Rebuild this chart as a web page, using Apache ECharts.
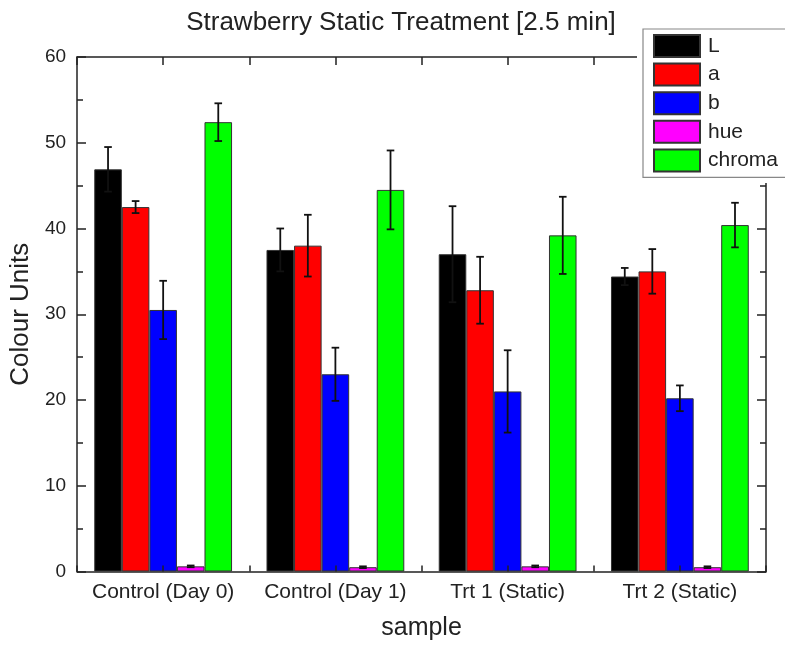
<!DOCTYPE html>
<html>
<head>
<meta charset="utf-8">
<script src="https://cdn.jsdelivr.net/npm/echarts@6/dist/echarts.min.js"></script>
<style>
  html, body { margin: 0; padding: 0; background: #fff; }
  #chart { width: 785px; height: 646px; }
</style>
</head>
<body>
<div id="chart"></div>
<script>
// sample groups
const categories = ['Control (Day 0)', 'Control (Day 1)', 'Trt 1 (Static)', 'Trt 2 (Static)'];
const seriesNames = ['L', 'a', 'b', 'hue', 'chroma'];
const colors = ['#000000', '#ff0000', '#0000ff', '#ff00ff', '#00ff00'];

// means and error (SD) per measure
const L = [46.9, 37.5, 37.0, 34.4];
const L_err = [2.6, 2.5, 5.6, 1.0];
const a = [42.5, 38.0, 32.8, 35.0];
const a_err = [0.7, 3.6, 3.9, 2.6];
const b = [30.5, 23.0, 21.0, 20.2];
const b_err = [3.4, 3.1, 4.8, 1.5];
const hue = [0.6, 0.5, 0.6, 0.5];
const hue_err = [0.1, 0.1, 0.1, 0.1];
const chroma = [52.4, 44.5, 39.2, 40.4];
const chroma_err = [2.2, 4.6, 4.5, 2.6];

const yTicks = [0, 10, 20, 30, 40, 50, 60];

const means = [L, a, b, hue, chroma];
const errs = [L_err, a_err, b_err, hue_err, chroma_err];

const barFrac = 0.16; // bar width as part of category band
const fontFam = 'Liberation Sans, Arial, sans-serif';

var myChart = echarts.init(document.getElementById('chart'));

const barSeries = seriesNames.map((name, k) => ({
    name: name,
    type: 'bar',
    xAxisIndex: 0,
    yAxisIndex: 0,
    data: means[k],
    barWidth: (barFrac * 100) + '%',
    barGap: '0%',
    itemStyle: { color: colors[k], borderColor: '#333', borderWidth: 1 },
    z: 2,
}));

const errSeries = seriesNames.map((name, k) => ({
    name: name + ' err',
    type: 'custom',
    xAxisIndex: 0,
    yAxisIndex: 0,
    z: 4,
    data: means[k].map((v, i) => [i, v, errs[k][i]]),
    renderItem: function (params, api) {
        const idx = api.value(0);
        const v = api.value(1);
        const e = api.value(2);
        const band = api.size([1, 0])[0];
        const x = api.coord([idx, v])[0] + (k - 2) * band * barFrac;
        const top = api.coord([idx, v + e])[1];
        const bot = api.coord([idx, v - e])[1];
        const w = 3.8;
        const st = { stroke: '#111', lineWidth: 1.8 };
        return {
            type: 'group',
            children: [
                { type: 'line', shape: { x1: x, y1: top, x2: x, y2: bot }, style: st },
                { type: 'line', shape: { x1: x - w, y1: top, x2: x + w, y2: top }, style: st },
                { type: 'line', shape: { x1: x - w, y1: bot, x2: x + w, y2: bot }, style: st },
            ],
        };
    },
}));

var option = {
    animation: false,
    backgroundColor: '#fff',
    title: {
        text: 'Strawberry Static Treatment [2.5 min]',
        left: 396,
        textAlign: 'center',
        top: 5,
        textStyle: { fontFamily: fontFam, fontSize: 26, fontWeight: 'normal', color: '#222' },
    },
    legend: {
        data: seriesNames,
        orient: 'vertical',
        left: 643,
        top: 29,
        padding: [5, 60, 5, 10],
        itemWidth: 46,
        itemHeight: 22,
        itemGap: 4.6,
        backgroundColor: '#fff',
        borderColor: '#888',
        borderWidth: 1.2,
        borderRadius: 0,
        icon: 'rect',
        z: 20,
        textStyle: { fontFamily: fontFam, fontSize: 21, color: '#222', lineHeight: 22, padding: [0, 0, 0, 3] },
    },
    graphic: [
        // blank area under the legend (axis lines stop there)
        { type: 'rect', shape: { x: 637, y: 0, width: 148, height: 183 }, style: { fill: '#fff' }, z: 15 },
    ],
    grid: { left: 77, right: 19, top: 57, bottom: 74.5 },
    xAxis: [
        {
            type: 'category',
            data: categories,
            position: 'bottom',
            axisLine: { lineStyle: { color: '#222', width: 1.5 } },
            axisTick: { show: false },
            axisLabel: { interval: 0, fontFamily: fontFam, fontSize: 21, color: '#222', margin: 10 },
            name: 'sample',
            nameLocation: 'middle',
            nameGap: 44,
            nameTextStyle: { fontFamily: fontFam, fontSize: 25, color: '#222' },
        },
        {
            type: 'value',
            position: 'bottom',
            min: 0, max: 8, interval: 1,
            z: 5,
            axisLine: { show: false },
            axisTick: { show: true, inside: true, length: 6, lineStyle: { color: '#222', width: 1.5 } },
            axisLabel: { show: false },
            splitLine: { show: false },
        },
        {
            type: 'value',
            position: 'top',
            min: 0, max: 8, interval: 1,
            z: 5,
            axisLine: { show: true, onZero: false, lineStyle: { color: '#222', width: 1.5 } },
            axisTick: { show: true, inside: true, length: 8, lineStyle: { color: '#222', width: 1.5 } },
            axisLabel: { show: false },
            splitLine: { show: false },
        },
    ],
    yAxis: [
        {
            type: 'value',
            min: yTicks[0],
            max: yTicks[yTicks.length - 1],
            interval: 10,
            position: 'left',
            z: 5,
            axisLine: { show: true, lineStyle: { color: '#222', width: 1.5 } },
            axisTick: { show: true, inside: true, length: 9, lineStyle: { color: '#222', width: 1.5 } },
            minorTick: { show: true, splitNumber: 2, length: 6, lineStyle: { color: '#222', width: 1.5 } },
            axisLabel: { fontFamily: fontFam, fontSize: 19, color: '#222', margin: 11 },
            splitLine: { show: false },
            name: 'Colour Units',
            nameLocation: 'middle',
            nameGap: 38,
            nameTextStyle: { fontFamily: fontFam, fontSize: 26, color: '#222' },
        },
        {
            type: 'value',
            min: yTicks[0],
            max: yTicks[yTicks.length - 1],
            interval: 10,
            position: 'right',
            z: 5,
            axisLine: { show: true, onZero: false, lineStyle: { color: '#222', width: 1.5 } },
            axisTick: { show: true, inside: true, length: 9, lineStyle: { color: '#222', width: 1.5 } },
            minorTick: { show: true, splitNumber: 2, length: 6, lineStyle: { color: '#222', width: 1.5 } },
            axisLabel: { show: false },
            splitLine: { show: false },
        },
    ],
    series: barSeries.concat(errSeries),
};

myChart.setOption(option);
window.addEventListener('resize', () => {
    myChart.resize();
});
</script>
</body>
</html>
